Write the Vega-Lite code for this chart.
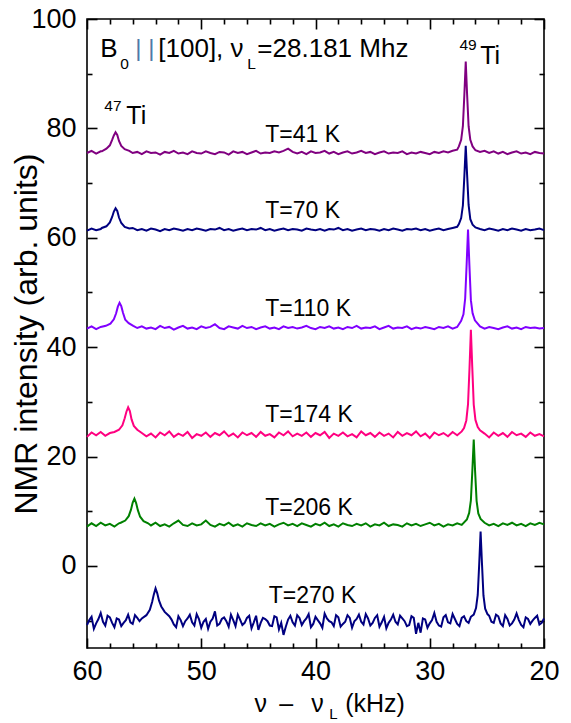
{
"$schema":"https://vega.github.io/schema/vega-lite/v6.json",
"width":457,"height":629,
"autosize":{"type":"none"},
"padding":{"left":87,"top":19,"right":27,"bottom":75},
"background":"white",
"config":{"view":{"stroke":"black","strokeWidth":1.6},"axis":{"grid":false,"labelFont":"Liberation Sans","titleFont":"Liberation Sans","labelColor":"black","titleColor":"black","tickColor":"black","tickWidth":1.6,"domainColor":"black"},"text":{"font":"Liberation Sans","color":"black"}},
"resolve":{"axis":{"x":"independent","y":"independent"},"scale":{"x":"shared","y":"shared"}},
"layer":[
{"data":{"values":[
{"s":"41","x":60,"y":75.5},{"s":"41","x":59.6,"y":75.9},{"s":"41","x":59.2,"y":75.4},{"s":"41","x":58.8,"y":75.8},{"s":"41","x":56,"y":75.5},{"s":"41","x":55.6,"y":75.7},{"s":"41","x":55.2,"y":75.3},{"s":"41","x":54.8,"y":75.8},{"s":"41","x":54.4,"y":75.5},{"s":"41","x":54,"y":75.6},{"s":"41","x":53.6,"y":75.2},{"s":"41","x":53.2,"y":75.7},{"s":"41","x":52.8,"y":75.5},{"s":"41","x":52.4,"y":75.9},{"s":"41","x":52,"y":75.4},{"s":"41","x":51.6,"y":75.6},{"s":"41","x":51.2,"y":75.3},{"s":"41","x":50.8,"y":75.8},{"s":"41","x":50.4,"y":75.5},{"s":"41","x":50,"y":75.4},{"s":"41","x":49.6,"y":75.8},{"s":"41","x":49.2,"y":75.5},{"s":"41","x":48.8,"y":75.3},{"s":"41","x":48.4,"y":75.7},{"s":"41","x":48,"y":75.6},{"s":"41","x":47.6,"y":75.2},{"s":"41","x":47.2,"y":75.8},{"s":"41","x":46.8,"y":75.5},{"s":"41","x":46.4,"y":75.7},{"s":"41","x":46,"y":75.3},{"s":"41","x":45.6,"y":75.6},{"s":"41","x":45.2,"y":75.9},{"s":"41","x":44.8,"y":75.4},{"s":"41","x":44.4,"y":75.6},{"s":"41","x":44,"y":75.5},{"s":"41","x":43.6,"y":75.8},{"s":"41","x":43.2,"y":75.6},{"s":"41","x":42.8,"y":75.9},{"s":"41","x":42.4,"y":76.3},{"s":"41","x":42,"y":75.7},{"s":"41","x":41.6,"y":75.4},{"s":"41","x":41.2,"y":75.7},{"s":"41","x":40.8,"y":75.3},{"s":"41","x":40.4,"y":75.8},{"s":"41","x":40,"y":75.5},{"s":"41","x":39.6,"y":75.6},{"s":"41","x":39.2,"y":75.9},{"s":"41","x":38.8,"y":75.4},{"s":"41","x":38.4,"y":75.7},{"s":"41","x":38,"y":75.3},{"s":"41","x":37.6,"y":75.6},{"s":"41","x":37.2,"y":75.8},{"s":"41","x":36.8,"y":75.4},{"s":"41","x":36.4,"y":75.6},{"s":"41","x":36,"y":75.9},{"s":"41","x":35.6,"y":75.5},{"s":"41","x":35.2,"y":75.7},{"s":"41","x":34.8,"y":75.3},{"s":"41","x":34.4,"y":75.6},{"s":"41","x":34,"y":75.8},{"s":"41","x":33.6,"y":75.4},{"s":"41","x":33.2,"y":75.6},{"s":"41","x":32.8,"y":75.5},{"s":"41","x":32.4,"y":75.8},{"s":"41","x":32,"y":75.3},{"s":"41","x":31.6,"y":75.6},{"s":"41","x":31.2,"y":75.4},{"s":"41","x":30.8,"y":75.7},{"s":"41","x":30.4,"y":75.5},{"s":"41","x":30,"y":75.3},{"s":"41","x":29.6,"y":75.7},{"s":"41","x":29.2,"y":75.5},{"s":"41","x":28.8,"y":75.8},{"s":"41","x":28.4,"y":75.6},{"s":"41","x":28,"y":75.9},{"s":"41","x":27.6,"y":76.1},{"s":"41","x":26,"y":76.0},{"s":"41","x":25.6,"y":75.7},{"s":"41","x":25.2,"y":75.9},{"s":"41","x":24.8,"y":75.5},{"s":"41","x":24.4,"y":75.8},{"s":"41","x":24,"y":75.4},{"s":"41","x":23.6,"y":75.7},{"s":"41","x":23.2,"y":75.3},{"s":"41","x":22.8,"y":75.6},{"s":"41","x":22.4,"y":75.8},{"s":"41","x":22,"y":75.4},{"s":"41","x":21.6,"y":75.6},{"s":"41","x":21.2,"y":75.3},{"s":"41","x":20.8,"y":75.7},{"s":"41","x":20.4,"y":75.5},{"s":"41","x":20,"y":75.4},
{"s":"41","x":58.7,"y":75.8},{"s":"41","x":58.3,"y":76.3},{"s":"41","x":58,"y":76.9},{"s":"41","x":57.8,"y":77.9},{"s":"41","x":57.65,"y":78.7},{"s":"41","x":57.5,"y":79.3},{"s":"41","x":57.35,"y":78.8},{"s":"41","x":57.2,"y":77.7},{"s":"41","x":57,"y":76.8},{"s":"41","x":56.7,"y":76.2},{"s":"41","x":56.3,"y":75.9},
{"s":"41","x":27.45,"y":76.7},{"s":"41","x":27.25,"y":77.9},{"s":"41","x":27.1,"y":80.4},{"s":"41","x":26.97,"y":86.2},{"s":"41","x":26.85,"y":92.2},{"s":"41","x":26.73,"y":86.2},{"s":"41","x":26.6,"y":80.4},{"s":"41","x":26.45,"y":77.9},{"s":"41","x":26.25,"y":76.7},
{"s":"70","x":60,"y":61.3},{"s":"70","x":59.6,"y":61.7},{"s":"70","x":59.2,"y":61.4},{"s":"70","x":58.8,"y":61.6},{"s":"70","x":56,"y":61.8},{"s":"70","x":55.6,"y":61.4},{"s":"70","x":55.2,"y":61.6},{"s":"70","x":54.8,"y":61.3},{"s":"70","x":54.4,"y":61.7},{"s":"70","x":54,"y":61.5},{"s":"70","x":53.6,"y":61.2},{"s":"70","x":53.2,"y":61.6},{"s":"70","x":52.8,"y":61.4},{"s":"70","x":52.4,"y":61.7},{"s":"70","x":52,"y":61.5},{"s":"70","x":51.6,"y":61.3},{"s":"70","x":51.2,"y":61.6},{"s":"70","x":50.8,"y":61.4},{"s":"70","x":50.4,"y":61.7},{"s":"70","x":50,"y":61.5},{"s":"70","x":49.6,"y":61.3},{"s":"70","x":49.2,"y":61.6},{"s":"70","x":48.8,"y":61.5},{"s":"70","x":48.4,"y":61.8},{"s":"70","x":48,"y":61.4},{"s":"70","x":47.6,"y":61.6},{"s":"70","x":47.2,"y":61.3},{"s":"70","x":46.8,"y":61.5},{"s":"70","x":46.4,"y":61.7},{"s":"70","x":46,"y":61.4},{"s":"70","x":45.6,"y":61.6},{"s":"70","x":45.2,"y":61.5},{"s":"70","x":44.8,"y":61.8},{"s":"70","x":44.4,"y":61.4},{"s":"70","x":44,"y":61.6},{"s":"70","x":43.6,"y":61.3},{"s":"70","x":43.2,"y":61.5},{"s":"70","x":42.8,"y":61.7},{"s":"70","x":42.4,"y":61.4},{"s":"70","x":42,"y":61.6},{"s":"70","x":41.6,"y":61.5},{"s":"70","x":41.2,"y":61.3},{"s":"70","x":40.8,"y":61.7},{"s":"70","x":40.4,"y":61.5},{"s":"70","x":40,"y":61.4},{"s":"70","x":39.6,"y":61.6},{"s":"70","x":39.2,"y":61.3},{"s":"70","x":38.8,"y":61.6},{"s":"70","x":38.4,"y":61.5},{"s":"70","x":38,"y":61.8},{"s":"70","x":37.6,"y":61.4},{"s":"70","x":37.2,"y":61.6},{"s":"70","x":36.8,"y":61.3},{"s":"70","x":36.4,"y":61.5},{"s":"70","x":36,"y":61.7},{"s":"70","x":35.6,"y":61.4},{"s":"70","x":35.2,"y":61.6},{"s":"70","x":34.8,"y":61.5},{"s":"70","x":34.4,"y":61.3},{"s":"70","x":34,"y":61.6},{"s":"70","x":33.6,"y":61.4},{"s":"70","x":33.2,"y":61.7},{"s":"70","x":32.8,"y":61.5},{"s":"70","x":32.4,"y":61.3},{"s":"70","x":32,"y":61.6},{"s":"70","x":31.6,"y":61.5},{"s":"70","x":31.2,"y":61.7},{"s":"70","x":30.8,"y":61.4},{"s":"70","x":30.4,"y":61.6},{"s":"70","x":30,"y":61.3},{"s":"70","x":29.6,"y":61.5},{"s":"70","x":29.2,"y":61.7},{"s":"70","x":28.8,"y":61.4},{"s":"70","x":28.4,"y":61.6},{"s":"70","x":28,"y":61.8},{"s":"70","x":27.6,"y":62.0},{"s":"70","x":26,"y":61.9},{"s":"70","x":25.6,"y":61.6},{"s":"70","x":25.2,"y":61.4},{"s":"70","x":24.8,"y":61.7},{"s":"70","x":24.4,"y":61.5},{"s":"70","x":24,"y":61.3},{"s":"70","x":23.6,"y":61.6},{"s":"70","x":23.2,"y":61.4},{"s":"70","x":22.8,"y":61.7},{"s":"70","x":22.4,"y":61.5},{"s":"70","x":22,"y":61.3},{"s":"70","x":21.6,"y":61.6},{"s":"70","x":21.2,"y":61.4},{"s":"70","x":20.8,"y":61.5},{"s":"70","x":20.4,"y":61.7},{"s":"70","x":20,"y":61.4},
{"s":"70","x":58.7,"y":61.8},{"s":"70","x":58.3,"y":62.1},{"s":"70","x":58,"y":62.8},{"s":"70","x":57.8,"y":63.8},{"s":"70","x":57.65,"y":64.8},{"s":"70","x":57.5,"y":65.4},{"s":"70","x":57.35,"y":64.9},{"s":"70","x":57.2,"y":63.7},{"s":"70","x":57,"y":62.7},{"s":"70","x":56.7,"y":62.0},{"s":"70","x":56.3,"y":61.7},
{"s":"70","x":27.45,"y":62.5},{"s":"70","x":27.25,"y":63.6},{"s":"70","x":27.1,"y":65.9},{"s":"70","x":26.97,"y":71.3},{"s":"70","x":26.85,"y":76.8},{"s":"70","x":26.73,"y":71.5},{"s":"70","x":26.6,"y":66.0},{"s":"70","x":26.45,"y":63.4},{"s":"70","x":26.25,"y":62.4},
{"s":"110","x":60,"y":43.4},{"s":"110","x":59.6,"y":43.8},{"s":"110","x":59.2,"y":43.3},{"s":"110","x":58.8,"y":43.7},{"s":"110","x":55.6,"y":43.5},{"s":"110","x":55.2,"y":43.8},{"s":"110","x":54.8,"y":43.4},{"s":"110","x":54.4,"y":43.6},{"s":"110","x":54,"y":43.3},{"s":"110","x":53.6,"y":43.9},{"s":"110","x":53.2,"y":43.5},{"s":"110","x":52.8,"y":43.7},{"s":"110","x":52.4,"y":43.2},{"s":"110","x":52,"y":43.6},{"s":"110","x":51.6,"y":43.9},{"s":"110","x":51.2,"y":43.4},{"s":"110","x":50.8,"y":43.6},{"s":"110","x":50.4,"y":43.3},{"s":"110","x":50,"y":43.8},{"s":"110","x":49.6,"y":43.5},{"s":"110","x":49.2,"y":43.7},{"s":"110","x":48.8,"y":44.2},{"s":"110","x":48.4,"y":43.5},{"s":"110","x":48,"y":43.3},{"s":"110","x":47.6,"y":43.8},{"s":"110","x":47.2,"y":43.6},{"s":"110","x":46.8,"y":43.4},{"s":"110","x":46.4,"y":43.9},{"s":"110","x":46,"y":43.5},{"s":"110","x":45.6,"y":43.7},{"s":"110","x":45.2,"y":43.3},{"s":"110","x":44.8,"y":43.6},{"s":"110","x":44.4,"y":43.8},{"s":"110","x":44,"y":43.4},{"s":"110","x":43.6,"y":43.6},{"s":"110","x":43.2,"y":43.3},{"s":"110","x":42.8,"y":43.8},{"s":"110","x":42.4,"y":43.5},{"s":"110","x":42,"y":43.7},{"s":"110","x":41.6,"y":43.4},{"s":"110","x":41.2,"y":43.6},{"s":"110","x":40.8,"y":43.9},{"s":"110","x":40.4,"y":43.5},{"s":"110","x":40,"y":43.3},{"s":"110","x":39.6,"y":43.7},{"s":"110","x":39.2,"y":43.5},{"s":"110","x":38.8,"y":43.8},{"s":"110","x":38.4,"y":43.4},{"s":"110","x":38,"y":43.6},{"s":"110","x":37.6,"y":43.3},{"s":"110","x":37.2,"y":43.7},{"s":"110","x":36.8,"y":43.5},{"s":"110","x":36.4,"y":43.9},{"s":"110","x":36,"y":43.4},{"s":"110","x":35.6,"y":43.6},{"s":"110","x":35.2,"y":43.5},{"s":"110","x":34.8,"y":43.8},{"s":"110","x":34.4,"y":43.3},{"s":"110","x":34,"y":43.6},{"s":"110","x":33.6,"y":43.9},{"s":"110","x":33.2,"y":43.4},{"s":"110","x":32.8,"y":43.6},{"s":"110","x":32.4,"y":43.5},{"s":"110","x":32,"y":43.8},{"s":"110","x":31.6,"y":43.3},{"s":"110","x":31.2,"y":43.6},{"s":"110","x":30.8,"y":43.4},{"s":"110","x":30.4,"y":43.7},{"s":"110","x":30,"y":43.5},{"s":"110","x":29.6,"y":43.3},{"s":"110","x":29.2,"y":43.7},{"s":"110","x":28.8,"y":43.5},{"s":"110","x":28.4,"y":43.8},{"s":"110","x":28,"y":43.4},{"s":"110","x":27.6,"y":43.7},{"s":"110","x":25.6,"y":43.8},{"s":"110","x":25.2,"y":43.4},{"s":"110","x":24.8,"y":43.7},{"s":"110","x":24.4,"y":43.5},{"s":"110","x":24,"y":43.3},{"s":"110","x":23.6,"y":43.6},{"s":"110","x":23.2,"y":43.8},{"s":"110","x":22.8,"y":43.4},{"s":"110","x":22.4,"y":43.6},{"s":"110","x":22,"y":43.3},{"s":"110","x":21.6,"y":43.7},{"s":"110","x":21.2,"y":43.5},{"s":"110","x":20.8,"y":43.6},{"s":"110","x":20.4,"y":43.4},{"s":"110","x":20,"y":43.5},
{"s":"110","x":58.35,"y":43.9},{"s":"110","x":57.95,"y":44.3},{"s":"110","x":57.65,"y":45.1},{"s":"110","x":57.45,"y":46.2},{"s":"110","x":57.3,"y":47.4},{"s":"110","x":57.15,"y":48.1},{"s":"110","x":57,"y":47.5},{"s":"110","x":56.85,"y":46.3},{"s":"110","x":56.65,"y":45.0},{"s":"110","x":56.35,"y":44.4},{"s":"110","x":55.95,"y":43.9},
{"s":"110","x":27.25,"y":44.8},{"s":"110","x":27.05,"y":46.0},{"s":"110","x":26.9,"y":48.9},{"s":"110","x":26.77,"y":55.2},{"s":"110","x":26.65,"y":61.5},{"s":"110","x":26.53,"y":55.0},{"s":"110","x":26.4,"y":48.6},{"s":"110","x":26.25,"y":46.2},{"s":"110","x":26.05,"y":44.9},
{"s":"174","x":60,"y":23.6},{"s":"174","x":59.6,"y":24.4},{"s":"174","x":59.2,"y":23.9},{"s":"174","x":58.8,"y":24.5},{"s":"174","x":58.4,"y":23.8},{"s":"174","x":58,"y":24.3},{"s":"174","x":54.8,"y":23.7},{"s":"174","x":54.4,"y":24.2},{"s":"174","x":54,"y":23.5},{"s":"174","x":53.6,"y":24.4},{"s":"174","x":53.2,"y":23.9},{"s":"174","x":52.8,"y":24.6},{"s":"174","x":52.4,"y":23.6},{"s":"174","x":52,"y":24.2},{"s":"174","x":51.6,"y":23.8},{"s":"174","x":51.2,"y":24.5},{"s":"174","x":50.8,"y":23.4},{"s":"174","x":50.4,"y":24.1},{"s":"174","x":50,"y":23.8},{"s":"174","x":49.6,"y":24.4},{"s":"174","x":49.2,"y":23.6},{"s":"174","x":48.8,"y":24.3},{"s":"174","x":48.4,"y":23.9},{"s":"174","x":48,"y":24.6},{"s":"174","x":47.6,"y":23.7},{"s":"174","x":47.2,"y":24.2},{"s":"174","x":46.8,"y":23.5},{"s":"174","x":46.4,"y":24.4},{"s":"174","x":46,"y":23.9},{"s":"174","x":45.6,"y":24.3},{"s":"174","x":45.2,"y":23.6},{"s":"174","x":44.8,"y":24.5},{"s":"174","x":44.4,"y":23.8},{"s":"174","x":44,"y":24.1},{"s":"174","x":43.6,"y":23.5},{"s":"174","x":43.2,"y":24.4},{"s":"174","x":42.8,"y":23.9},{"s":"174","x":42.4,"y":24.6},{"s":"174","x":42,"y":23.7},{"s":"174","x":41.6,"y":24.2},{"s":"174","x":41.2,"y":23.8},{"s":"174","x":40.8,"y":24.4},{"s":"174","x":40.4,"y":23.6},{"s":"174","x":40,"y":24.3},{"s":"174","x":39.6,"y":23.9},{"s":"174","x":39.2,"y":24.5},{"s":"174","x":38.8,"y":23.4},{"s":"174","x":38.4,"y":24.2},{"s":"174","x":38,"y":23.8},{"s":"174","x":37.6,"y":24.4},{"s":"174","x":37.2,"y":23.7},{"s":"174","x":36.8,"y":24.1},{"s":"174","x":36.4,"y":23.5},{"s":"174","x":36,"y":24.6},{"s":"174","x":35.6,"y":23.9},{"s":"174","x":35.2,"y":24.3},{"s":"174","x":34.8,"y":23.6},{"s":"174","x":34.4,"y":24.4},{"s":"174","x":34,"y":23.8},{"s":"174","x":33.6,"y":24.2},{"s":"174","x":33.2,"y":23.5},{"s":"174","x":32.8,"y":24.5},{"s":"174","x":32.4,"y":23.8},{"s":"174","x":32,"y":24.3},{"s":"174","x":31.6,"y":23.9},{"s":"174","x":31.2,"y":24.6},{"s":"174","x":30.8,"y":23.7},{"s":"174","x":30.4,"y":24.2},{"s":"174","x":30,"y":23.4},{"s":"174","x":29.6,"y":24.4},{"s":"174","x":29.2,"y":23.9},{"s":"174","x":28.8,"y":24.3},{"s":"174","x":28.4,"y":23.7},{"s":"174","x":28,"y":24.5},{"s":"174","x":27.6,"y":23.9},{"s":"174","x":27.2,"y":24.6},{"s":"174","x":25.6,"y":24.8},{"s":"174","x":25.2,"y":24.2},{"s":"174","x":24.8,"y":23.5},{"s":"174","x":24.4,"y":24.4},{"s":"174","x":24,"y":23.8},{"s":"174","x":23.6,"y":24.3},{"s":"174","x":23.2,"y":23.6},{"s":"174","x":22.8,"y":24.5},{"s":"174","x":22.4,"y":23.9},{"s":"174","x":22,"y":24.2},{"s":"174","x":21.6,"y":23.6},{"s":"174","x":21.2,"y":24.4},{"s":"174","x":20.8,"y":23.8},{"s":"174","x":20.4,"y":24.1},{"s":"174","x":20,"y":23.7},
{"s":"174","x":57.6,"y":24.5},{"s":"174","x":57.2,"y":24.9},{"s":"174","x":56.9,"y":25.7},{"s":"174","x":56.7,"y":27.0},{"s":"174","x":56.55,"y":28.2},{"s":"174","x":56.4,"y":29.0},{"s":"174","x":56.25,"y":28.3},{"s":"174","x":56.1,"y":26.8},{"s":"174","x":55.9,"y":25.6},{"s":"174","x":55.6,"y":24.9},{"s":"174","x":55.2,"y":24.3},
{"s":"174","x":27,"y":25.2},{"s":"174","x":26.8,"y":26.6},{"s":"174","x":26.65,"y":29.6},{"s":"174","x":26.52,"y":36.2},{"s":"174","x":26.4,"y":43.2},{"s":"174","x":26.28,"y":36.4},{"s":"174","x":26.15,"y":29.5},{"s":"174","x":26,"y":26.7},{"s":"174","x":25.8,"y":25.4},
{"s":"206","x":60,"y":7.2},{"s":"206","x":59.6,"y":7.8},{"s":"206","x":59.2,"y":7.3},{"s":"206","x":58.8,"y":7.9},{"s":"206","x":58.4,"y":7.4},{"s":"206","x":58,"y":7.7},{"s":"206","x":57.6,"y":7.2},{"s":"206","x":57.2,"y":7.8},{"s":"206","x":54.4,"y":7.4},{"s":"206","x":54,"y":7.9},{"s":"206","x":53.6,"y":7.3},{"s":"206","x":53.2,"y":7.6},{"s":"206","x":52.8,"y":7.2},{"s":"206","x":52.4,"y":7.8},{"s":"206","x":52,"y":8.3},{"s":"206","x":51.6,"y":7.5},{"s":"206","x":51.2,"y":7.3},{"s":"206","x":50.8,"y":7.8},{"s":"206","x":50.4,"y":7.4},{"s":"206","x":50,"y":7.6},{"s":"206","x":49.6,"y":8.3},{"s":"206","x":49.2,"y":7.5},{"s":"206","x":48.8,"y":7.2},{"s":"206","x":48.4,"y":7.7},{"s":"206","x":48,"y":7.4},{"s":"206","x":47.6,"y":7.9},{"s":"206","x":47.2,"y":7.3},{"s":"206","x":46.8,"y":7.6},{"s":"206","x":46.4,"y":7.2},{"s":"206","x":46,"y":7.8},{"s":"206","x":45.6,"y":7.5},{"s":"206","x":45.2,"y":7.3},{"s":"206","x":44.8,"y":7.8},{"s":"206","x":44.4,"y":7.4},{"s":"206","x":44,"y":7.7},{"s":"206","x":43.6,"y":7.2},{"s":"206","x":43.2,"y":7.6},{"s":"206","x":42.8,"y":7.9},{"s":"206","x":42.4,"y":7.4},{"s":"206","x":42,"y":7.7},{"s":"206","x":41.6,"y":7.3},{"s":"206","x":41.2,"y":7.8},{"s":"206","x":40.8,"y":7.5},{"s":"206","x":40.4,"y":7.2},{"s":"206","x":40,"y":7.7},{"s":"206","x":39.6,"y":7.4},{"s":"206","x":39.2,"y":7.9},{"s":"206","x":38.8,"y":7.3},{"s":"206","x":38.4,"y":7.6},{"s":"206","x":38,"y":7.2},{"s":"206","x":37.6,"y":7.8},{"s":"206","x":37.2,"y":7.5},{"s":"206","x":36.8,"y":7.3},{"s":"206","x":36.4,"y":7.7},{"s":"206","x":36,"y":7.4},{"s":"206","x":35.6,"y":7.8},{"s":"206","x":35.2,"y":7.2},{"s":"206","x":34.8,"y":7.6},{"s":"206","x":34.4,"y":7.4},{"s":"206","x":34,"y":7.9},{"s":"206","x":33.6,"y":7.3},{"s":"206","x":33.2,"y":7.6},{"s":"206","x":32.8,"y":7.5},{"s":"206","x":32.4,"y":7.2},{"s":"206","x":32,"y":7.8},{"s":"206","x":31.6,"y":7.4},{"s":"206","x":31.2,"y":7.7},{"s":"206","x":30.8,"y":7.3},{"s":"206","x":30.4,"y":7.6},{"s":"206","x":30,"y":7.9},{"s":"206","x":29.6,"y":7.4},{"s":"206","x":29.2,"y":7.7},{"s":"206","x":28.8,"y":7.2},{"s":"206","x":28.4,"y":7.6},{"s":"206","x":28,"y":7.4},{"s":"206","x":27.6,"y":7.8},{"s":"206","x":27.2,"y":7.5},{"s":"206","x":25.2,"y":7.9},{"s":"206","x":24.8,"y":7.4},{"s":"206","x":24.4,"y":7.7},{"s":"206","x":24,"y":7.3},{"s":"206","x":23.6,"y":7.8},{"s":"206","x":23.2,"y":7.5},{"s":"206","x":22.8,"y":7.9},{"s":"206","x":22.4,"y":7.4},{"s":"206","x":22,"y":7.7},{"s":"206","x":21.6,"y":7.3},{"s":"206","x":21.2,"y":7.8},{"s":"206","x":20.8,"y":7.5},{"s":"206","x":20.4,"y":7.9},{"s":"206","x":20,"y":7.6},
{"s":"206","x":57.05,"y":7.9},{"s":"206","x":56.65,"y":8.3},{"s":"206","x":56.35,"y":9.1},{"s":"206","x":56.15,"y":10.3},{"s":"206","x":56,"y":11.6},{"s":"206","x":55.85,"y":12.3},{"s":"206","x":55.7,"y":11.5},{"s":"206","x":55.55,"y":10.2},{"s":"206","x":55.35,"y":9.0},{"s":"206","x":55.05,"y":8.2},{"s":"206","x":54.65,"y":7.8},
{"s":"206","x":26.75,"y":8.5},{"s":"206","x":26.55,"y":9.7},{"s":"206","x":26.4,"y":12.0},{"s":"206","x":26.27,"y":17.5},{"s":"206","x":26.15,"y":23.1},{"s":"206","x":26.03,"y":17.3},{"s":"206","x":25.9,"y":11.9},{"s":"206","x":25.75,"y":9.6},{"s":"206","x":25.55,"y":8.6},
{"s":"270","x":60,"y":-10.8},{"s":"270","x":59.6,"y":-9.3},{"s":"270","x":59.2,"y":-10.5},{"s":"270","x":58.8,"y":-8.6},{"s":"270","x":58.4,"y":-10.9},{"s":"270","x":58,"y":-9.4},{"s":"270","x":57.6,"y":-11.2},{"s":"270","x":57.2,"y":-9.8},{"s":"270","x":56.8,"y":-10.4},{"s":"270","x":56.4,"y":-8.9},{"s":"270","x":56,"y":-10.6},{"s":"270","x":55.6,"y":-9.5},{"s":"270","x":52.4,"y":-10.7},{"s":"270","x":52,"y":-9.2},{"s":"270","x":51.6,"y":-11.0},{"s":"270","x":51.2,"y":-9.6},{"s":"270","x":50.8,"y":-10.3},{"s":"270","x":50.4,"y":-8.8},{"s":"270","x":50,"y":-11.3},{"s":"270","x":49.6,"y":-9.7},{"s":"270","x":49.2,"y":-10.2},{"s":"270","x":48.8,"y":-8.3},{"s":"270","x":48.4,"y":-10.6},{"s":"270","x":48,"y":-9.4},{"s":"270","x":47.6,"y":-11.1},{"s":"270","x":47.2,"y":-9.9},{"s":"270","x":46.8,"y":-8.9},{"s":"270","x":46.4,"y":-10.8},{"s":"270","x":46,"y":-9.5},{"s":"270","x":45.6,"y":-11.4},{"s":"270","x":45.2,"y":-9.1},{"s":"270","x":44.8,"y":-10.4},{"s":"270","x":44.4,"y":-9.7},{"s":"270","x":44,"y":-10.9},{"s":"270","x":43.6,"y":-9.2},{"s":"270","x":43.2,"y":-11.6},{"s":"270","x":42.8,"y":-12.6},{"s":"270","x":42.4,"y":-9.8},{"s":"270","x":42,"y":-10.3},{"s":"270","x":41.6,"y":-9.0},{"s":"270","x":41.2,"y":-10.8},{"s":"270","x":40.8,"y":-9.6},{"s":"270","x":40.4,"y":-11.2},{"s":"270","x":40,"y":-9.3},{"s":"270","x":39.6,"y":-10.5},{"s":"270","x":39.2,"y":-8.7},{"s":"270","x":38.8,"y":-10.1},{"s":"270","x":38.4,"y":-11.0},{"s":"270","x":38,"y":-9.4},{"s":"270","x":37.6,"y":-10.6},{"s":"270","x":37.2,"y":-9.0},{"s":"270","x":36.8,"y":-11.3},{"s":"270","x":36.4,"y":-9.7},{"s":"270","x":36,"y":-10.2},{"s":"270","x":35.6,"y":-8.8},{"s":"270","x":35.2,"y":-10.9},{"s":"270","x":34.8,"y":-9.5},{"s":"270","x":34.4,"y":-11.1},{"s":"270","x":34,"y":-9.3},{"s":"270","x":33.6,"y":-10.4},{"s":"270","x":33.2,"y":-8.9},{"s":"270","x":32.8,"y":-10.7},{"s":"270","x":32.4,"y":-9.6},{"s":"270","x":32,"y":-11.0},{"s":"270","x":31.6,"y":-9.2},{"s":"270","x":31.2,"y":-12.4},{"s":"270","x":30.8,"y":-12.2},{"s":"270","x":30.4,"y":-9.8},{"s":"270","x":30,"y":-10.5},{"s":"270","x":29.6,"y":-8.6},{"s":"270","x":29.2,"y":-10.9},{"s":"270","x":28.8,"y":-9.4},{"s":"270","x":28.4,"y":-10.3},{"s":"270","x":28,"y":-8.8},{"s":"270","x":27.6,"y":-10.6},{"s":"270","x":27.2,"y":-9.5},{"s":"270","x":26.8,"y":-10.1},{"s":"270","x":26.4,"y":-9.3},{"s":"270","x":24.8,"y":-9.1},{"s":"270","x":24.4,"y":-10.4},{"s":"270","x":24,"y":-9.2},{"s":"270","x":23.6,"y":-11.0},{"s":"270","x":23.2,"y":-9.7},{"s":"270","x":22.8,"y":-10.5},{"s":"270","x":22.4,"y":-8.7},{"s":"270","x":22,"y":-10.8},{"s":"270","x":21.6,"y":-9.4},{"s":"270","x":21.2,"y":-10.6},{"s":"270","x":20.8,"y":-9.5},{"s":"270","x":20.4,"y":-10.7},{"s":"270","x":20,"y":-9.6},
{"s":"270","x":59.8,"y":-9.9},{"s":"270","x":59.4,"y":-11.5},{"s":"270","x":59,"y":-9.7},{"s":"270","x":58.6,"y":-10.2},{"s":"270","x":58.2,"y":-9.1},{"s":"270","x":57.8,"y":-10.4},{"s":"270","x":57.4,"y":-9.6},{"s":"270","x":57,"y":-11.0},{"s":"270","x":56.6,"y":-9.9},{"s":"270","x":56.2,"y":-10.3},{"s":"270","x":55.8,"y":-9.0},{"s":"270","x":55.4,"y":-10.1},{"s":"270","x":52.6,"y":-9.8},{"s":"270","x":52.2,"y":-11.2},{"s":"270","x":51.8,"y":-9.9},{"s":"270","x":51.4,"y":-10.1},{"s":"270","x":51,"y":-8.9},{"s":"270","x":50.6,"y":-10.9},{"s":"270","x":50.2,"y":-9.7},{"s":"270","x":49.8,"y":-10.2},{"s":"270","x":49.4,"y":-11.5},{"s":"270","x":49,"y":-9.6},{"s":"270","x":48.6,"y":-10.9},{"s":"270","x":48.2,"y":-9.7},{"s":"270","x":47.8,"y":-10.1},{"s":"270","x":47.4,"y":-8.9},{"s":"270","x":47,"y":-11.0},{"s":"270","x":46.6,"y":-9.8},{"s":"270","x":46.2,"y":-10.4},{"s":"270","x":45.8,"y":-9.1},{"s":"270","x":45.4,"y":-10.3},{"s":"270","x":45,"y":-11.7},{"s":"270","x":44.6,"y":-9.5},{"s":"270","x":44.2,"y":-10.1},{"s":"270","x":43.8,"y":-11.0},{"s":"270","x":43.4,"y":-9.4},{"s":"270","x":43,"y":-10.4},{"s":"270","x":42.6,"y":-11.1},{"s":"270","x":42.2,"y":-9.1},{"s":"270","x":41.8,"y":-10.9},{"s":"270","x":41.4,"y":-9.5},{"s":"270","x":41,"y":-10.1},{"s":"270","x":40.6,"y":-8.8},{"s":"270","x":40.2,"y":-10.6},{"s":"270","x":39.8,"y":-9.9},{"s":"270","x":39.4,"y":-11.3},{"s":"270","x":39,"y":-9.6},{"s":"270","x":38.6,"y":-10.3},{"s":"270","x":38.2,"y":-9.0},{"s":"270","x":37.8,"y":-11.1},{"s":"270","x":37.4,"y":-10.2},{"s":"270","x":37,"y":-9.5},{"s":"270","x":36.6,"y":-10.1},{"s":"270","x":36.2,"y":-8.9},{"s":"270","x":35.8,"y":-10.7},{"s":"270","x":35.4,"y":-9.6},{"s":"270","x":35,"y":-10.4},{"s":"270","x":34.6,"y":-9.0},{"s":"270","x":34.2,"y":-10.3},{"s":"270","x":33.8,"y":-11.4},{"s":"270","x":33.4,"y":-9.8},{"s":"270","x":33,"y":-10.2},{"s":"270","x":32.6,"y":-9.1},{"s":"270","x":32.2,"y":-10.1},{"s":"270","x":31.8,"y":-10.8},{"s":"270","x":31.4,"y":-9.5},{"s":"270","x":31,"y":-10.4},{"s":"270","x":30.6,"y":-9.6},{"s":"270","x":30.2,"y":-11.3},{"s":"270","x":29.8,"y":-9.9},{"s":"270","x":29.4,"y":-10.2},{"s":"270","x":29,"y":-11.1},{"s":"270","x":28.6,"y":-9.0},{"s":"270","x":28.2,"y":-10.5},{"s":"270","x":27.8,"y":-9.7},{"s":"270","x":27.4,"y":-11.0},{"s":"270","x":27,"y":-9.2},{"s":"270","x":26.6,"y":-10.4},{"s":"270","x":24.6,"y":-10.2},{"s":"270","x":24.2,"y":-8.9},{"s":"270","x":23.8,"y":-10.5},{"s":"270","x":23.4,"y":-9.0},{"s":"270","x":23,"y":-10.9},{"s":"270","x":22.6,"y":-9.8},{"s":"270","x":22.2,"y":-9.9},{"s":"270","x":21.8,"y":-11.2},{"s":"270","x":21.4,"y":-9.7},{"s":"270","x":21,"y":-10.0},{"s":"270","x":20.6,"y":-9.1},{"s":"270","x":20.2,"y":-10.4},
{"s":"270","x":55.2,"y":-9.6},{"s":"270","x":54.8,"y":-9.0},{"s":"270","x":54.5,"y":-8.0},{"s":"270","x":54.3,"y":-6.6},{"s":"270","x":54.15,"y":-5.2},{"s":"270","x":54,"y":-4.1},{"s":"270","x":53.85,"y":-5.0},{"s":"270","x":53.7,"y":-6.3},{"s":"270","x":53.5,"y":-7.4},{"s":"270","x":53.2,"y":-8.4},{"s":"270","x":52.8,"y":-9.2},
{"s":"270","x":26.15,"y":-8.9},{"s":"270","x":25.95,"y":-7.7},{"s":"270","x":25.8,"y":-5.3},{"s":"270","x":25.67,"y":0.4},{"s":"270","x":25.55,"y":6.3},{"s":"270","x":25.43,"y":0.5},{"s":"270","x":25.3,"y":-5.4},{"s":"270","x":25.15,"y":-7.8},{"s":"270","x":24.95,"y":-8.8}
]},
"mark":{"type":"line","strokeWidth":2},
"encoding":{
"x":{"field":"x","type":"quantitative","scale":{"domain":[20,60],"reverse":true,"nice":false,"zero":false},"axis":{"orient":"bottom","values":[60,50,40,30,20],"ticks":false,"domain":false,"labelFontSize":27,"labelPadding":10,"labelFlush":false,"labelOverlap":false,"title":null}},
"y":{"field":"y","type":"quantitative","scale":{"domain":[-15,100],"nice":false,"zero":false},"axis":{"orient":"left","values":[0,20,40,60,80,100],"ticks":false,"domain":false,"labelFontSize":27,"labelPadding":11,"labelFlush":false,"labelOverlap":false,"title":"NMR intensity (arb. units)","titleFontSize":32,"titleFontWeight":"normal","titleX":-44}},
"color":{"field":"s","type":"nominal","scale":{"domain":["41","70","110","174","206","270"],"range":["#800080","#000080","#8000ff","#ff0080","#008000","#000080"]},"legend":null}
}},
{"data":{"values":[{"x":40,"y":40}]},"mark":{"type":"point","opacity":0},
"encoding":{
"x":{"field":"x","type":"quantitative","scale":{"domain":[20,60],"reverse":true,"nice":false,"zero":false},"axis":{"orient":"bottom","values":[60,50,40,30,20],"labels":false,"domain":false,"tickSize":10,"offset":-10,"title":null}},
"y":{"field":"y","type":"quantitative","scale":{"domain":[-15,100],"nice":false,"zero":false},"axis":{"orient":"left","values":[0,20,40,60,80,100],"labels":false,"domain":false,"tickSize":10,"offset":-10,"title":null}}}},
{"data":{"values":[{"x":40,"y":40}]},"mark":{"type":"point","opacity":0},
"encoding":{
"x":{"field":"x","type":"quantitative","scale":{"domain":[20,60],"reverse":true,"nice":false,"zero":false},"axis":{"orient":"bottom","values":[58,56,54,52,48,46,44,42,38,36,34,32,28,26,24,22],"labels":false,"domain":false,"tickSize":5,"offset":-5,"title":null}},
"y":{"field":"y","type":"quantitative","scale":{"domain":[-15,100],"nice":false,"zero":false},"axis":{"orient":"left","values":[-10,10,30,50,70,90],"labels":false,"domain":false,"tickSize":5,"offset":-5,"title":null}}}},
{"data":{"values":[{"x":40,"y":40}]},"mark":{"type":"point","opacity":0},
"encoding":{
"x":{"field":"x","type":"quantitative","scale":{"domain":[20,60],"reverse":true,"nice":false,"zero":false},"axis":{"orient":"top","values":[60,50,40,30,20],"labels":false,"domain":false,"tickSize":10,"offset":-10,"title":null}},
"y":{"field":"y","type":"quantitative","scale":{"domain":[-15,100],"nice":false,"zero":false},"axis":{"orient":"right","values":[0,20,40,60,80,100],"labels":false,"domain":false,"tickSize":10,"offset":-10,"title":null}}}},
{"data":{"values":[{"x":40,"y":40}]},"mark":{"type":"point","opacity":0},
"encoding":{
"x":{"field":"x","type":"quantitative","scale":{"domain":[20,60],"reverse":true,"nice":false,"zero":false},"axis":{"orient":"top","values":[58,56,54,52,48,46,44,42,38,36,34,32,28,26,24,22],"labels":false,"domain":false,"tickSize":5,"offset":-5,"title":null}},
"y":{"field":"y","type":"quantitative","scale":{"domain":[-15,100],"nice":false,"zero":false},"axis":{"orient":"right","values":[-10,10,30,50,70,90],"labels":false,"domain":false,"tickSize":5,"offset":-5,"title":null}}}},
{"data":{"values":[{"t":"T=41 K","x":44.4,"y":77.6},{"t":"T=70 K","x":44.4,"y":63.6},{"t":"T=110 K","x":44.4,"y":45.7},{"t":"T=174 K","x":44.4,"y":26.3},{"t":"T=206 K","x":44.4,"y":9.4},{"t":"T=270 K","x":44.1,"y":-6.8}]},
"mark":{"type":"text","align":"left","baseline":"alphabetic","fontSize":23},
"encoding":{"x":{"field":"x","type":"quantitative","scale":{"domain":[20,60],"reverse":true,"nice":false,"zero":false},"axis":null},"y":{"field":"y","type":"quantitative","scale":{"domain":[-15,100],"nice":false,"zero":false},"axis":null},"text":{"field":"t"}}},
{"data":{"values":[{"t":"B","x":58.84,"y":93.1},{"t":"[100],","x":53.76,"y":93.1},{"t":"ν","x":47.44,"y":93.1},{"t":"=28.181 Mhz","x":45.09,"y":93.1}]},
"mark":{"type":"text","align":"left","baseline":"alphabetic","fontSize":26},
"encoding":{"x":{"field":"x","type":"quantitative","scale":{"domain":[20,60],"reverse":true,"nice":false,"zero":false},"axis":null},"y":{"field":"y","type":"quantitative","scale":{"domain":[-15,100],"nice":false,"zero":false},"axis":null},"text":{"field":"t"}}},
{"data":{"values":[{"t":"Ti","x":56.56,"y":80.85},{"t":"Ti","x":25.59,"y":91.8}]},
"mark":{"type":"text","align":"left","baseline":"alphabetic","fontSize":25},
"encoding":{"x":{"field":"x","type":"quantitative","scale":{"domain":[20,60],"reverse":true,"nice":false,"zero":false},"axis":null},"y":{"field":"y","type":"quantitative","scale":{"domain":[-15,100],"nice":false,"zero":false},"axis":null},"text":{"field":"t"}}},
{"data":{"values":[{"t":"0","x":57.09,"y":90.9},{"t":"L","x":45.97,"y":90.9},{"t":"47","x":58.48,"y":83.1},{"t":"49","x":27.4,"y":94.4}]},
"mark":{"type":"text","align":"left","baseline":"alphabetic","fontSize":15.5},
"encoding":{"x":{"field":"x","type":"quantitative","scale":{"domain":[20,60],"reverse":true,"nice":false,"zero":false},"axis":null},"y":{"field":"y","type":"quantitative","scale":{"domain":[-15,100],"nice":false,"zero":false},"axis":null},"text":{"field":"t"}}},
{"data":{"values":[{"t":"| |","x":55.77,"y":93.3}]},
"mark":{"type":"text","align":"left","baseline":"alphabetic","fontSize":24,"color":"#4f79a8"},
"encoding":{"x":{"field":"x","type":"quantitative","scale":{"domain":[20,60],"reverse":true,"nice":false,"zero":false},"axis":null},"y":{"field":"y","type":"quantitative","scale":{"domain":[-15,100],"nice":false,"zero":false},"axis":null},"text":{"field":"t"}}},
{"data":{"values":[{"t":"ν","x":45.35,"y":-26.7},{"t":"–","x":43.17,"y":-26.7},{"t":"ν","x":40.37,"y":-26.7},{"t":"(kHz)","x":37.4,"y":-26.7}]},
"mark":{"type":"text","align":"left","baseline":"alphabetic","fontSize":25},
"encoding":{"x":{"field":"x","type":"quantitative","scale":{"domain":[20,60],"reverse":true,"nice":false,"zero":false},"axis":null},"y":{"field":"y","type":"quantitative","scale":{"domain":[-15,100],"nice":false,"zero":false},"axis":null},"text":{"field":"t"}}},
{"data":{"values":[{"t":"L","x":38.8,"y":-27.9}]},
"mark":{"type":"text","align":"left","baseline":"alphabetic","fontSize":15},
"encoding":{"x":{"field":"x","type":"quantitative","scale":{"domain":[20,60],"reverse":true,"nice":false,"zero":false},"axis":null},"y":{"field":"y","type":"quantitative","scale":{"domain":[-15,100],"nice":false,"zero":false},"axis":null},"text":{"field":"t"}}}
]
}
